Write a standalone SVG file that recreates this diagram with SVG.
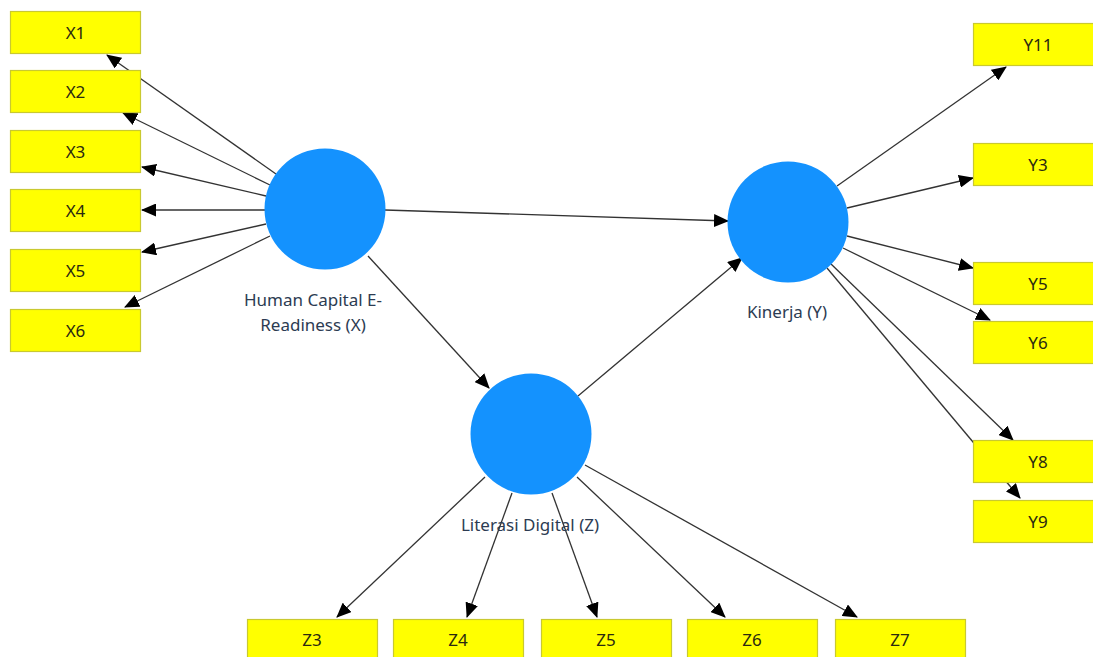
<svg xmlns="http://www.w3.org/2000/svg" width="1093" height="657" viewBox="0 0 1093 657">
<style>
.ind rect{fill:#ffff00;stroke:#c9c930;stroke-width:1.2}
.ind text{font-family:"Noto Sans","Open Sans",sans-serif;font-size:17px;fill:#2a2a10;text-anchor:middle}
.lv circle{fill:#1492fe}
.lv text{font-family:"Noto Sans","Open Sans",sans-serif;font-size:17px;fill:#2c3b52;text-anchor:middle}
#connectors line{stroke:#333;stroke-width:1.3;marker-end:url(#ah)}
</style>
<defs>
<marker id="ah" markerWidth="15" markerHeight="13" refX="14" refY="6.5" orient="auto" markerUnits="userSpaceOnUse">
<path d="M0,0 L15,6.5 L0,13 Z" fill="#000"/>
</marker>
</defs>
<rect width="1093" height="657" fill="#fff"/>
<g id="connectors">
<line x1="276" y1="174" x2="107" y2="55"/>
<line x1="270" y1="185" x2="123" y2="113"/>
<line x1="266" y1="196" x2="142" y2="167"/>
<line x1="265" y1="210" x2="142" y2="210"/>
<line x1="266" y1="224" x2="142" y2="252"/>
<line x1="270" y1="236" x2="125" y2="307"/>
<line x1="385" y1="210" x2="728" y2="221"/>
<line x1="368" y1="256" x2="489" y2="388"/>
<line x1="578" y1="396" x2="742" y2="258"/>
<line x1="837" y1="186" x2="1006" y2="67"/>
<line x1="847" y1="208" x2="973" y2="178"/>
<line x1="847" y1="236" x2="973" y2="268"/>
<line x1="843" y1="248" x2="990" y2="320"/>
<line x1="831" y1="264" x2="1013" y2="440"/>
<line x1="827" y1="268" x2="1020" y2="498"/>
<line x1="485" y1="477" x2="337" y2="617"/>
<line x1="512" y1="493" x2="467" y2="617"/>
<line x1="552" y1="493" x2="597" y2="617"/>
<line x1="577" y1="477" x2="725" y2="617"/>
<line x1="585" y1="465" x2="857" y2="617"/>
</g>
<g id="lv-X" class="lv"><circle cx="325" cy="209" r="60.5"/><text x="313" y="306">Human Capital E-</text><text x="313" y="331">Readiness (X)</text></g>
<g id="lv-Y" class="lv"><circle cx="788" cy="222" r="60.5"/><text x="787" y="318">Kinerja (Y)</text></g>
<g id="lv-Z" class="lv"><circle cx="531" cy="434" r="60.5"/><text x="530" y="531">Literasi Digital (Z)</text></g>
<g id="X1" class="ind"><rect x="10.5" y="11.5" width="130" height="42"/><text x="75.5" y="39">X1</text></g>
<g id="X2" class="ind"><rect x="10.5" y="70.5" width="130" height="42"/><text x="75.5" y="98">X2</text></g>
<g id="X3" class="ind"><rect x="10.5" y="130.5" width="130" height="42"/><text x="75.5" y="158">X3</text></g>
<g id="X4" class="ind"><rect x="10.5" y="189.5" width="130" height="42"/><text x="75.5" y="217">X4</text></g>
<g id="X5" class="ind"><rect x="10.5" y="249.5" width="130" height="42"/><text x="75.5" y="277">X5</text></g>
<g id="X6" class="ind"><rect x="10.5" y="309.5" width="130" height="42"/><text x="75.5" y="337">X6</text></g>
<g id="Y11" class="ind"><rect x="973.5" y="23.5" width="130" height="42"/><text x="1038" y="51">Y11</text></g>
<g id="Y3" class="ind"><rect x="973.5" y="143.5" width="130" height="42"/><text x="1038" y="171">Y3</text></g>
<g id="Y5" class="ind"><rect x="973.5" y="262.5" width="130" height="42"/><text x="1038" y="290">Y5</text></g>
<g id="Y6" class="ind"><rect x="973.5" y="321.5" width="130" height="42"/><text x="1038" y="349">Y6</text></g>
<g id="Y8" class="ind"><rect x="973.5" y="440.5" width="130" height="42"/><text x="1038" y="468">Y8</text></g>
<g id="Y9" class="ind"><rect x="973.5" y="500.5" width="130" height="42"/><text x="1038" y="528">Y9</text></g>
<g id="Z3" class="ind"><rect x="247.5" y="619.5" width="130" height="42"/><text x="312" y="646">Z3</text></g>
<g id="Z4" class="ind"><rect x="393.5" y="619.5" width="130" height="42"/><text x="458" y="646">Z4</text></g>
<g id="Z5" class="ind"><rect x="541.5" y="619.5" width="130" height="42"/><text x="606" y="646">Z5</text></g>
<g id="Z6" class="ind"><rect x="687.5" y="619.5" width="130" height="42"/><text x="752" y="646">Z6</text></g>
<g id="Z7" class="ind"><rect x="835.5" y="619.5" width="130" height="42"/><text x="900" y="646">Z7</text></g>
</svg>
